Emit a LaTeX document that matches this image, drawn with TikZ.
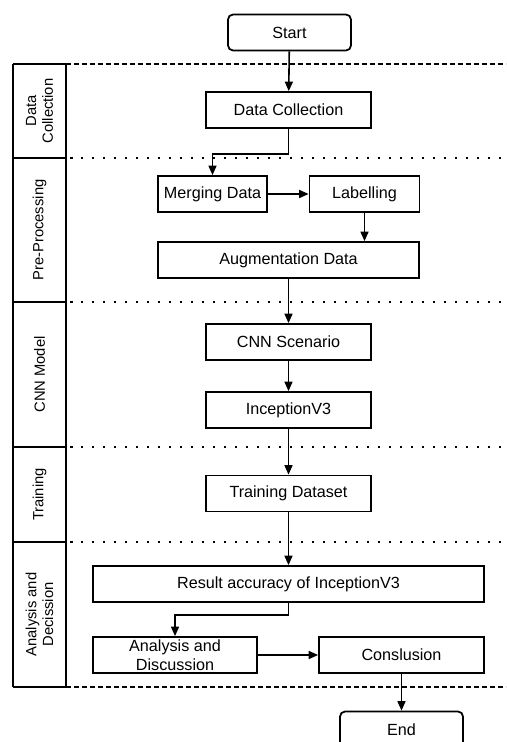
\documentclass[tikz,border=0pt]{standalone}
\usepackage{fontspec}
\setmainfont{Liberation Sans}
\usetikzlibrary{arrows.meta}

\tikzset{
    stepbox/.style={draw, line width=1pt, minimum height=0.72cm, inner sep=1pt,
        align=center, font=\fontsize{9.2}{10.6}\selectfont},
    terminal/.style={stepbox, rounded corners=0.1cm},
    lanetext/.style={rotate=90, align=center, font=\fontsize{8.4}{9.6}\selectfont},
    arr/.style={line width=0.9pt, -{Triangle[length=0.19cm,width=0.16cm]}},
    lanesep/.style={line width=1.1pt, dash pattern=on 0.05cm off 0.17cm},
    laneedge/.style={line width=0.9pt, dash pattern=on 0.1cm off 0.06cm}
}

\begin{document}
\begin{tikzpicture}[x=0.02cm, y=-0.02cm]
    \clip (0,0) rectangle (506,742);

    % swimlane column on the left
    \draw[line width=0.8pt] (13,64) -- (13,687);
    \draw[line width=0.8pt] (66,64) -- (66,687);
    \foreach \y in {64,158,302,447,542,687}
        \draw[line width=1.2pt] (13,\y) -- (66,\y);
    \draw[laneedge] (66,64) -- (506,64);
    \draw[laneedge] (66,687) -- (506,687);
    \foreach \y in {158,302,447,542}
        \draw[lanesep] (70,\y) -- (506,\y);

    \node[lanetext] (laneDC) at (39.5,111) {Data\\Collection};
    \node[lanetext] (lanePP) at (39.5,230) {Pre-Processing};
    \node[lanetext] (laneCNN) at (39.5,374.5) {CNN Model};
    \node[lanetext] (laneTR) at (39.5,494.5) {Training};
    \node[lanetext] (laneAD) at (39.5,614.5) {Analysis and\\Decission};

    % steps
    \node[terminal, minimum width=2.46cm] (start) at (289.5,32.5) {Start};
    \node[stepbox, minimum width=3.3cm] (collect) at (288.5,110) {Data Collection};
    \node[stepbox, minimum width=2.18cm] (merge) at (212.5,194) {Merging Data};
    \node[stepbox, minimum width=2.2cm] (label) at (364.5,194) {Labelling};
    \node[stepbox, minimum width=5.22cm] (augment) at (288.5,260) {Augmentation Data};
    \node[stepbox, minimum width=3.3cm] (scenario) at (288.5,342) {CNN Scenario};
    \node[stepbox, minimum width=3.3cm] (inception) at (288.5,410) {InceptionV3};
    \node[stepbox, minimum width=3.3cm] (train) at (288.5,493.5) {Training Dataset};
    \node[stepbox, minimum width=7.82cm] (result) at (288.5,584) {Result accuracy of InceptionV3};
    \node[stepbox, minimum width=3.28cm] (analysis) at (175,655) {Analysis and\\Discussion};
    \node[stepbox, minimum width=3.3cm] (conclude) at (401.5,655) {Conslusion};
    \node[terminal, minimum width=2.46cm] (end) at (401.5,729.5) {End};

    % flow
    \draw[arr] (start) -- (collect);
    \draw[arr] (collect.south) -- ++(0,25) -| (merge.north);
    \draw[arr] (merge) -- (label);
    \draw[arr] (label.south) -- (label.south |- augment.north);
    \draw[arr] (augment.south -| scenario) -- (scenario);
    \draw[arr] (scenario) -- (inception);
    \draw[arr] (inception) -- (train);
    \draw[arr] (train) -- (train |- result.north);
    \draw[arr] (result.south) -- ++(0,12) -| (analysis.north);
    \draw[arr] (analysis) -- (conclude);
    \draw[arr] (conclude) -- (end);
\end{tikzpicture}
\end{document}
